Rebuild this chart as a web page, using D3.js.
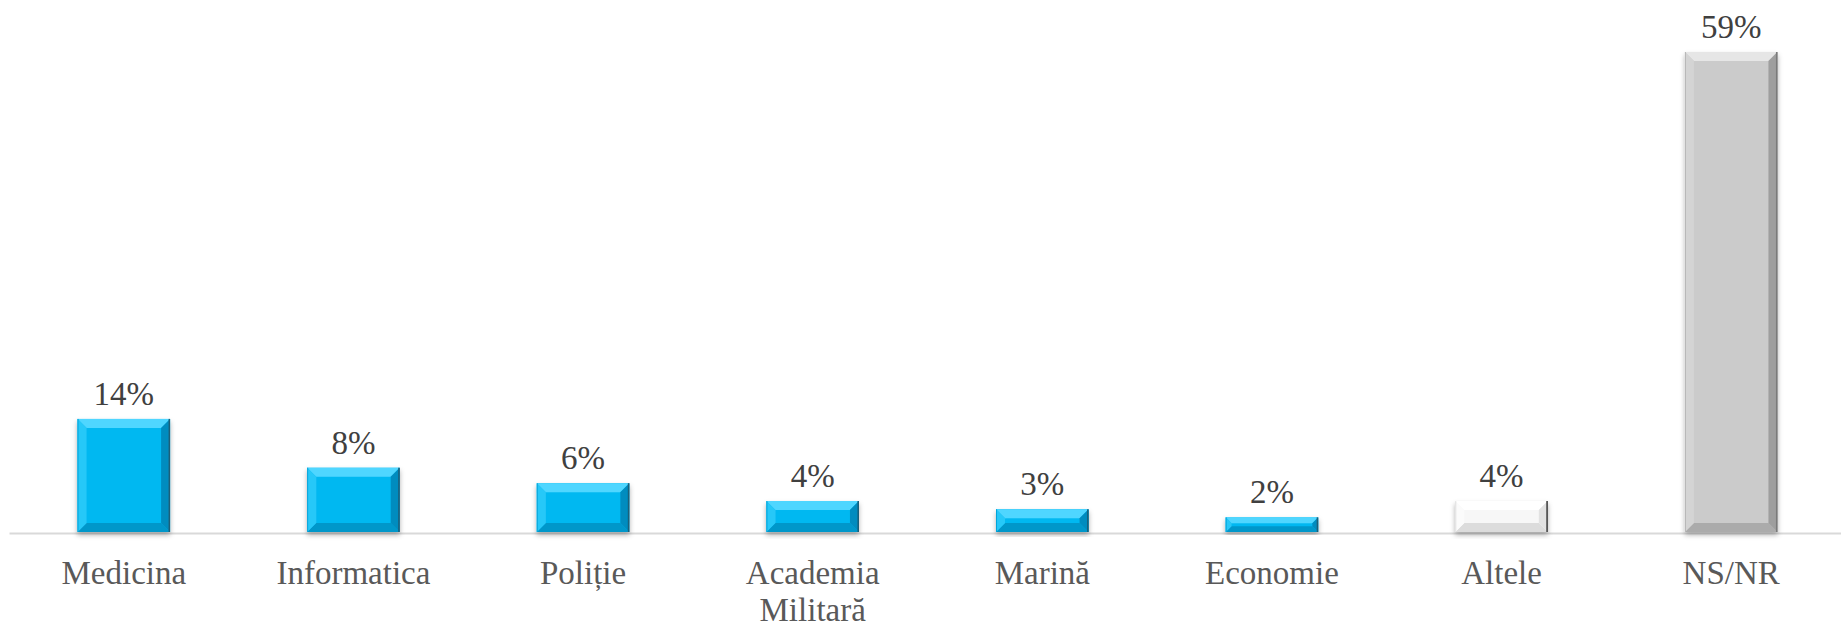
<!DOCTYPE html>
<html lang="ro">
<head>
<meta charset="UTF-8">
<title>Chart</title>
<script src="https://d3js.org/d3.v7.min.js"></script>
<style>
  body { margin: 0; background: #fff; }
  svg { display: block; }
</style>
</head>
<body>
<script>
// categories and values (%)
const categories = ["Medicina", "Informatica", "Poliție", "Academia Militară", "Marină", "Economie", "Altele", "NS/NR"];
const values = [13.9, 7.9, 6.0, 3.8, 2.8, 1.8, 3.8, 59];
const groups = ["blue", "blue", "blue", "blue", "blue", "blue", "white", "gray"];

const width = 1841, height = 625;
const baseY = 532;

// bevel palettes
const palettes = {
    blue:  { face: "#06B8F1", top: "#4FD6FF", bottom: "#0497CA", left: "#28C8F8", right: "#038CBF", edge: "#1B5E78" },
    gray:  { face: "#CBCBCB", top: "#E6E6E6", bottom: "#ABABAB", left: "#D4D4D4", right: "#9E9E9E", edge: "#7A7A7A" },
    white: { face: "#F7F7F7", top: "#FFFFFF", bottom: "#DCDCDC", left: "#FBFBFB", right: "#E2E2E2", edge: "#3A3A3A" }
};

const data = categories.map((c, i) => ({ cat: c, value: values[i], group: groups[i] }));

const svg = d3.select("body").append("svg")
    .attr("width", width)
    .attr("height", height);

const defs = svg.append("defs");
const shadow = defs.append("filter").attr("id", "shadow")
    .attr("x", "-20%").attr("y", "-20%").attr("width", "140%").attr("height", "140%");
shadow.append("feDropShadow")
    .attr("dx", 0).attr("dy", 3).attr("stdDeviation", 2.5)
    .attr("flood-color", "#000").attr("flood-opacity", 0.3);

const x = d3.scaleBand()
    .domain(categories)
    .range([9, 1846])
    .paddingInner(0.597)
    .paddingOuter(0.2985);

const y = d3.scaleLinear()
    .domain([0, d3.max(values)])
    .range([baseY, 52]);

// x axis
const xAxis = svg.append("g")
    .attr("transform", `translate(0,${baseY + 1})`)
    .call(d3.axisBottom(x).tickSize(0).tickPadding(28));

xAxis.select(".domain")
    .attr("stroke", "#D9D9D9")
    .attr("stroke-width", 2);

xAxis.selectAll(".tick text")
    .attr("font-family", "'Liberation Serif', 'Times New Roman', serif")
    .attr("font-size", 33)
    .attr("fill", "#595959")
    .call(wrap, x.step() - 10);

function wrap(texts, maxWidth) {
    texts.each(function () {
        const text = d3.select(this);
        const words = text.text().split(/\s+/);
        const yAttr = text.attr("y");
        const dy = parseFloat(text.attr("dy"));
        text.text(null);
        let line = [];
        let lineNo = 0;
        let tspan = text.append("tspan").attr("x", 0).attr("y", yAttr).attr("dy", dy + "em");
        words.forEach(w => {
            line.push(w);
            tspan.text(line.join(" "));
            if (tspan.node().getComputedTextLength() > maxWidth && line.length > 1) {
                line.pop();
                tspan.text(line.join(" "));
                line = [w];
                lineNo++;
                tspan = text.append("tspan").attr("x", 0).attr("y", yAttr)
                    .attr("dy", (lineNo * 1.1 + dy) + "em").text(w);
            }
        });
    });
}

// bars with bevel
const bars = svg.append("g").selectAll("g.bar")
    .data(data)
    .join("g")
    .attr("class", "bar")
    .attr("filter", "url(#shadow)");

bars.each(function (d) {
    const g = d3.select(this);
    const p = palettes[d.group];
    const x0 = x(d.cat), x1 = x(d.cat) + x.bandwidth();
    const y0 = y(d.value), y1 = y(0);
    const b = Math.min(9, (y1 - y0) * 0.4);
    const pts = a => a.map(q => q.join(",")).join(" ");

    g.append("rect")
        .attr("x", x0).attr("y", y0)
        .attr("width", x1 - x0).attr("height", y1 - y0)
        .attr("fill", p.face);
    g.append("polygon").attr("fill", p.top)
        .attr("points", pts([[x0, y0], [x1, y0], [x1 - b, y0 + b], [x0 + b, y0 + b]]));
    g.append("polygon").attr("fill", p.bottom)
        .attr("points", pts([[x0, y1], [x1, y1], [x1 - b, y1 - b], [x0 + b, y1 - b]]));
    g.append("polygon").attr("fill", p.left)
        .attr("points", pts([[x0, y0], [x0 + b, y0 + b], [x0 + b, y1 - b], [x0, y1]]));
    g.append("polygon").attr("fill", p.right)
        .attr("points", pts([[x1, y0], [x1 - b, y0 + b], [x1 - b, y1 - b], [x1, y1]]));
    g.append("line")
        .attr("x1", x1 - 0.75).attr("x2", x1 - 0.75)
        .attr("y1", y0).attr("y2", y1)
        .attr("stroke", p.edge).attr("stroke-width", 1.5);
    g.append("line")
        .attr("x1", x0 + 0.5).attr("x2", x0 + 0.5)
        .attr("y1", y0).attr("y2", y1)
        .attr("stroke", d3.color(p.face).darker(0.3)).attr("stroke-width", 1);
});

// data labels
svg.append("g").selectAll("text")
    .data(data)
    .join("text")
    .attr("x", d => x(d.cat) + x.bandwidth() / 2)
    .attr("y", d => y(d.value) - 14)
    .attr("text-anchor", "middle")
    .attr("font-family", "'Liberation Serif', 'Times New Roman', serif")
    .attr("font-size", 33)
    .attr("fill", "#404040")
    .text(d => Math.round(d.value) + "%");
</script>
</body>
</html>
